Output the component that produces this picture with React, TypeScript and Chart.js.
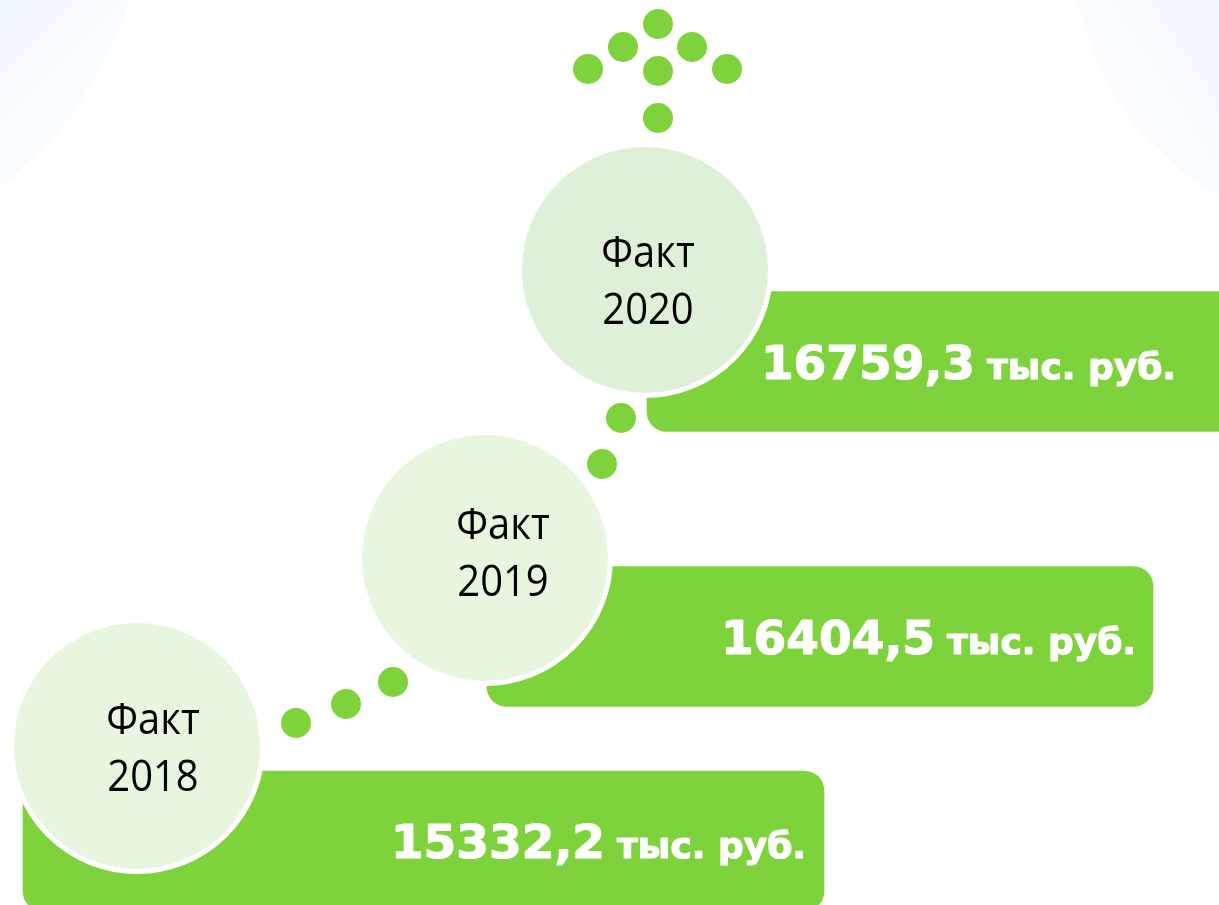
import React, { useEffect, useRef } from "react";
import { Chart, registerables } from "chart.js";

Chart.register(...registerables);

// ---- data ----
const years = ["2018", "2019", "2020"];
const factValues = [15332.2, 16404.5, 16759.3];
const factLabel = "Факт";
const unitLabel = "тыс. руб.";

// ---- layout (plot units: x 0..1219 left→right, y 0..905 top→down) ----
const circleX = [137, 485, 645];
const circleY = [746, 558, 270];
const barStart = [23, 487, 647];
const barEnd = [824, 1153, 1245];
const barLevel = [841, 636.5, 361.5];
const valueRight = [806, 1136, 1176];
const labelDx = [16, 18, 3];
const labelDy = [1, -6, 10];
const dotX = [296, 346, 393, 602, 621, 658, 623, 692, 588, 658, 727, 658];
const dotY = [723, 704, 682, 464, 418, 24, 47, 47, 69, 71, 69, 118];

const GREEN = "#7ed23c";
const circleColors = ["#e8f6e0", "#e8f6e0", "#dff0d8"];

const W = 1219;
const H = 905;

const fmt = (v: number) => v.toFixed(1).replace(".", ",");

const backgroundPlugin = {
  id: "bgDecor",
  beforeDraw(chart: any) {
    const { ctx, width, height } = chart;
    ctx.save();
    ctx.fillStyle = "#ffffff";
    ctx.fillRect(0, 0, width, height);
    // top-left soft wash
    let g = ctx.createLinearGradient(0, 0, 110, 110);
    g.addColorStop(0, "rgba(238,245,255,0.85)");
    g.addColorStop(1, "rgba(246,250,255,0.45)");
    ctx.fillStyle = g;
    ctx.beginPath();
    ctx.moveTo(0, 0);
    ctx.lineTo(width * 0.107, 0);
    ctx.quadraticCurveTo(width * 0.065, height * 0.15, 0, height * 0.207);
    ctx.closePath();
    ctx.fill();
    // top-right soft wash
    g = ctx.createLinearGradient(width, 0, width - 140, 90);
    g.addColorStop(0, "rgba(238,245,255,0.85)");
    g.addColorStop(1, "rgba(247,250,255,0.45)");
    ctx.fillStyle = g;
    ctx.beginPath();
    ctx.moveTo(width * 0.883, 0);
    ctx.lineTo(width, 0);
    ctx.lineTo(width, height * 0.215);
    ctx.quadraticCurveTo(width * 0.915, height * 0.16, width * 0.883, 0);
    ctx.closePath();
    ctx.fill();
    ctx.restore();
  },
};

const labelsPlugin = {
  id: "stepLabels",
  afterDatasetsDraw(chart: any) {
    const { ctx } = chart;
    const xs = chart.scales.x;
    const ys = chart.scales.y;
    ctx.save();
    // circle labels
    ctx.fillStyle = "#000000";
    ctx.textAlign = "center";
    ctx.textBaseline = "alphabetic";
    ctx.font = '43px "Open Sans", sans-serif';
    years.forEach((yr, i) => {
      const cx = xs.getPixelForValue(circleX[i]) + labelDx[i];
      const cy = ys.getPixelForValue(circleY[i]) + labelDy[i];
      const half = 28.5;
      const cap = 15;
      ctx.save();
      ctx.translate(cx, 0);
      ctx.scale(0.93, 1);
      ctx.fillText(factLabel, 0, cy - half + cap);
      ctx.fillText(yr, 0, cy + half + cap);
      ctx.restore();
    });
    // values in bars
    ctx.fillStyle = "#ffffff";
    ctx.strokeStyle = "#ffffff";
    ctx.lineWidth = 1.2;
    ctx.lineJoin = "round";
    ctx.textAlign = "right";
    factValues.forEach((v, i) => {
      const right = xs.getPixelForValue(valueRight[i]);
      const cy = ys.getPixelForValue(barLevel[i]);
      const base = cy + 17;
      ctx.font = 'bold 36px "DejaVu Sans", sans-serif';
      const wU = ctx.measureText(unitLabel).width;
      ctx.fillText(unitLabel, right, base);
      ctx.strokeText(unitLabel, right, base);
      ctx.font = 'bold 47px "DejaVu Sans", sans-serif';
      const t = fmt(v);
      ctx.fillText(t, right - wU - 12, base);
      ctx.strokeText(t, right - wU - 12, base);
    });
    ctx.restore();
  },
};

export default function App() {
  const ref = useRef<HTMLCanvasElement | null>(null);

  useEffect(() => {
    document.body.style.margin = "0";
    const canvas = ref.current;
    if (!canvas) return;
    const chart = new Chart(canvas, {
      type: "bar",
      data: {
        datasets: [
          {
            type: "bubble",
            label: "dots",
            order: 0,
            data: dotX.map((x, i) => ({ x, y: dotY[i], r: 15 })),
            backgroundColor: GREEN,
            borderWidth: 0,
          } as any,
          {
            type: "bubble",
            label: "years",
            order: 1,
            data: circleX.map((x, i) => ({ x, y: circleY[i], r: 125.5 })),
            backgroundColor: circleColors,
            borderColor: "#ffffff",
            borderWidth: 5,
          } as any,
          {
            type: "bar",
            label: "facts",
            order: 2,
            indexAxis: "y",
            data: barLevel.map((y, i) => ({ y, x: [barStart[i], barEnd[i]] })),
            backgroundColor: GREEN,
            barThickness: 140,
            borderRadius: 20,
            borderSkipped: false,
          } as any,
        ],
      },
      options: {
        indexAxis: "y",
        responsive: false,
        maintainAspectRatio: false,
        devicePixelRatio: 1,
        animation: false,
        events: [],
        layout: { padding: 0, autoPadding: false },
        plugins: {
          legend: { display: false },
          tooltip: { enabled: false },
        },
        scales: {
          x: { type: "linear", min: 0, max: W, offset: false, display: false },
          y: { type: "linear", min: 0, max: H, reverse: true, offset: false, display: false },
        },
      } as any,
      plugins: [backgroundPlugin, labelsPlugin],
    });
    return () => chart.destroy();
  }, []);

  return (
    <div style={{ width: W, height: H }}>
      <canvas ref={ref} width={W} height={H} style={{ display: "block" }} />
    </div>
  );
}
